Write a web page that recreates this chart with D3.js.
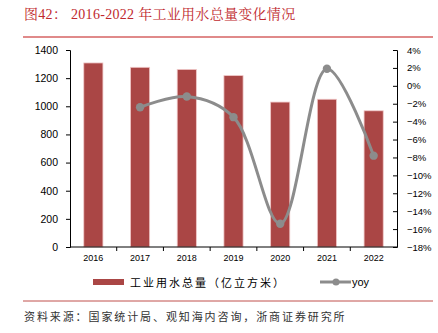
<!DOCTYPE html>
<html><head><meta charset="utf-8">
<script src="https://cdn.jsdelivr.net/npm/d3@7"></script>
<style>html,body{margin:0;padding:0;background:#fff;}svg{display:block;}</style>
</head><body>
<svg id="c" width="438" height="333"></svg>
<script>
const years = ["2016","2017","2018","2019","2020","2021","2022"];
const water = [1308, 1277, 1262, 1218, 1030, 1050, 968];
const yoy = [null, -2.4, -1.2, -3.5, -15.4, 1.9, -7.8];
const leftTicks = [0,200,400,600,800,1000,1200,1400];
const rightTicks = [4,2,0,-2,-4,-6,-8,-10,-12,-14,-16,-18];
const titleText = "图42： 2016-2022 年工业用水总量变化情况";
const legendBar = "工业用水总量（亿立方米）";
const legendLine = "yoy";
const sourceText = "资料来源：国家统计局、观知海内咨询，浙商证券研究所";

const svg = d3.select("#c");
const L = 70, R = 397, T = 50, B = 247;
const x = d3.scaleBand().domain(years).range([L, R]).paddingInner(0.59).paddingOuter(0.295);
const xb = d3.scaleBand().domain(years).range([L, R]);
const yL = d3.scaleLinear().domain([0,1400]).range([B, T]);
const yR = d3.scaleLinear().domain([-18,4]).range([B, T]);
const fnt = "Liberation Sans, Arial, sans-serif";
const cjk = "'Noto Sans CJK SC', sans-serif";

// title
svg.append("text").attr("x",24).attr("y",19).attr("fill","#c0282d")
  .attr("font-family","'Liberation Serif', 'Noto Serif CJK SC', 'Noto Sans CJK SC', serif")
  .attr("font-size",14).attr("letter-spacing",0.3).text(titleText);
svg.append("line").attr("x1",23).attr("x2",433).attr("y1",37).attr("y2",37)
  .attr("stroke","#e08a8a").attr("stroke-width",2);

// bars
svg.append("g").selectAll("rect").data(years).join("rect")
  .attr("x", d=>x(d)).attr("width", x.bandwidth())
  .attr("y", (d,i)=>yL(water[i])).attr("height",(d,i)=>yL(0)-yL(water[i]))
  .attr("fill","#aa4645").attr("stroke","#f0c8c8").attr("stroke-width",0.8);

// left axis
const gl = svg.append("g").attr("transform",`translate(${L},0)`)
  .call(d3.axisLeft(yL).tickValues(leftTicks).tickSize(4).tickPadding(8).tickFormat(d3.format("d")));
gl.select(".domain").attr("stroke","#000");
gl.selectAll("text").attr("font-family",fnt).attr("font-size",10.5).attr("fill","#000");

// right axis (ticks inward)
const gr = svg.append("g").attr("transform",`translate(${R},0)`)
  .call(d3.axisRight(yR).tickValues(rightTicks).tickSize(-4).tickPadding(10)
  .tickFormat(d=>(d<0?"\u2212"+(-d):d)+"%"));
gr.select(".domain").attr("stroke","#000");
gr.selectAll("text").attr("font-family",fnt).attr("font-size",9.5).attr("fill","#000");

// x axis
const gx = svg.append("g").attr("transform",`translate(0,${B})`);
gx.append("line").attr("x1",L).attr("x2",R).attr("stroke","#000");
gx.selectAll("line.t").data(years.slice(1)).join("line").attr("class","t")
  .attr("x1",d=>xb(d)).attr("x2",d=>xb(d)).attr("y1",0).attr("y2",4).attr("stroke","#000");
gx.selectAll("text").data(years).join("text")
  .attr("x",d=>xb(d)+xb.bandwidth()/2).attr("y",14).attr("text-anchor","middle")
  .attr("font-family",fnt).attr("font-size",9).attr("fill","#000").text(d=>d);

// line
const pts = years.map((d,i)=>({d, v: yoy[i]})).filter(p=>p.v!==null);
const line = d3.line().x(p=>xb(p.d)+xb.bandwidth()/2).y(p=>yR(p.v)).curve(d3.curveCatmullRom.alpha(0.5));
svg.append("path").datum(pts).attr("d",line).attr("fill","none")
  .attr("stroke","#8c8c8c").attr("stroke-width",3);
svg.append("g").selectAll("circle").data(pts).join("circle")
  .attr("cx",p=>xb(p.d)+xb.bandwidth()/2).attr("cy",p=>yR(p.v)).attr("r",4.2).attr("fill","#8c8c8c");

// legend
svg.append("rect").attr("x",93).attr("y",279).attr("width",31).attr("height",6).attr("fill","#aa4645");
svg.append("text").attr("x",130).attr("y",286.5).attr("font-family",cjk).attr("font-size",11)
  .attr("letter-spacing",2.0).attr("fill","#000").text(legendBar);
svg.append("line").attr("x1",320).attr("x2",351).attr("y1",282).attr("y2",282)
  .attr("stroke","#8c8c8c").attr("stroke-width",3);
svg.append("circle").attr("cx",336).attr("cy",282).attr("r",3.5).attr("fill","#8c8c8c");
svg.append("text").attr("x",352).attr("y",286).attr("font-family",fnt).attr("font-size",11)
  .attr("fill","#000").text(legendLine);

// source
svg.append("line").attr("x1",23).attr("x2",433).attr("y1",301).attr("y2",301)
  .attr("stroke","#c0504d").attr("stroke-width",1);
svg.append("text").attr("x",24).attr("y",321).attr("font-family",cjk).attr("font-size",11)
  .attr("letter-spacing",1.9).attr("fill","#333").text(sourceText);
</script>
</body></html>
